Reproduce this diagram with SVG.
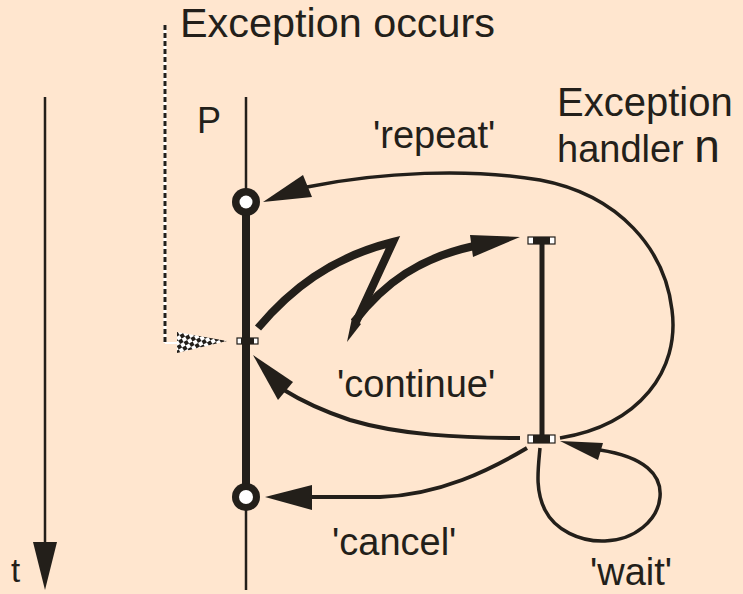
<svg xmlns="http://www.w3.org/2000/svg" width="743" height="594" viewBox="0 0 743 594">
<defs>
<style>
.txt{font-family:"Liberation Sans",Arial,sans-serif;fill:#231F1A}
.ln{fill:none;stroke:#231F1A;stroke-linecap:butt}
.fill{fill:#231F1A}
</style>
<pattern id="chk" width="8" height="8" patternUnits="userSpaceOnUse" patternTransform="rotate(-30)">
<rect width="8" height="8" fill="#ffffff"/>
<rect width="4" height="4" fill="#231F1A"/>
<rect x="4" y="4" width="4" height="4" fill="#231F1A"/>
</pattern>
</defs>
<rect width="743" height="594" fill="#FFE6CF"/>

<g id="time-axis">
<line class="ln" x1="45" y1="97" x2="45" y2="545" stroke-width="2.5"/>
<polygon class="fill" points="33,542 57,542 45,590"/>
<text class="txt" x="11" y="582" font-size="33">t</text>
</g>

<g id="exception-occurs">
<line x1="165" y1="25" x2="165" y2="343" stroke="#ffffff" stroke-width="3"/>
<line x1="165" y1="25" x2="165" y2="343" stroke="#231F1A" stroke-width="3" stroke-dasharray="5,3"/>
<line x1="165" y1="343" x2="178" y2="343" stroke="#ffffff" stroke-width="2"/>
<polygon points="177,332 227,341 177,353" fill="url(#chk)"/>
<text class="txt" x="180" y="37" font-size="40" textLength="315" lengthAdjust="spacingAndGlyphs">Exception occurs</text>
</g>

<g id="process-P">
<line class="ln" x1="246" y1="97" x2="246" y2="200" stroke-width="2.5"/>
<line class="ln" x1="246" y1="200" x2="246" y2="497" stroke-width="8"/>
<line class="ln" x1="246" y1="497" x2="246" y2="590" stroke-width="2.5"/>
<circle cx="246" cy="202" r="14" class="fill"/>
<circle cx="246" cy="202" r="6.5" fill="#ffffff"/>
<circle cx="246" cy="497" r="14" class="fill"/>
<circle cx="246" cy="497" r="7" fill="#ffffff"/>
<rect x="237" y="338" width="21" height="6" fill="#ffffff" stroke="#231F1A" stroke-width="1.2"/>
<rect x="241" y="338" width="13" height="6" class="fill"/>
<text class="txt" x="197" y="133" font-size="36">P</text>
</g>

<g id="handler-n">
<line class="ln" x1="542" y1="241" x2="542" y2="438" stroke-width="5"/>
<rect x="528" y="237" width="27" height="7" fill="#ffffff" stroke="#231F1A" stroke-width="1.2"/>
<rect x="533" y="237" width="17" height="7" class="fill"/>
<rect x="528" y="435" width="27" height="8" fill="#ffffff" stroke="#231F1A" stroke-width="1.2"/>
<rect x="533" y="435" width="17" height="8" class="fill"/>
<text class="txt" x="557" y="116" font-size="40">Exception</text>
<text class="txt" x="557" y="162" font-size="38">handler <tspan font-size="46">n</tspan></text>
</g>

<g id="connectors">
<path class="ln" d="M 258,328 C 290,290 330,258 393,242 L 356,322" stroke-width="8" stroke-linejoin="miter"/>
<polygon class="fill" points="352,318 361,324 347,342"/>
<path class="ln" d="M 354,322 C 385,282 420,258 474,246" stroke-width="8"/>
<polygon class="fill" points="470,235 520,237 473,257"/>
<path class="ln" d="M 560,438 C 640,425 680,370 672,310 C 665,250 620,195 540,180 C 470,168 380,172 307,187" stroke-width="3.5"/>
<polygon class="fill" points="263,202 303,175 312,197"/>
<path class="ln" d="M 520,438 C 460,438 400,435 350,420 C 320,410 300,400 284,390" stroke-width="4"/>
<polygon class="fill" points="253,355 293,382 278,400"/>
<path class="ln" d="M 527,448 C 490,470 440,495 380,497 L 310,497" stroke-width="4"/>
<polygon class="fill" points="265,497 312,485 312,510"/>
<path class="ln" d="M 540,448 C 538,470 535,490 545,510 C 555,530 580,542 605,541 C 635,540 658,520 660,497 C 662,475 645,457 600,450" stroke-width="3.5"/>
<polygon class="fill" points="560,441 603,443 598,460"/>
</g>

<g id="labels">
<text class="txt" x="373" y="148" font-size="38">'repeat'</text>
<text class="txt" x="337" y="397" font-size="38">'continue'</text>
<text class="txt" x="332" y="555" font-size="38">'cancel'</text>
<text class="txt" x="590" y="585" font-size="38">'wait'</text>
</g>
</svg>
